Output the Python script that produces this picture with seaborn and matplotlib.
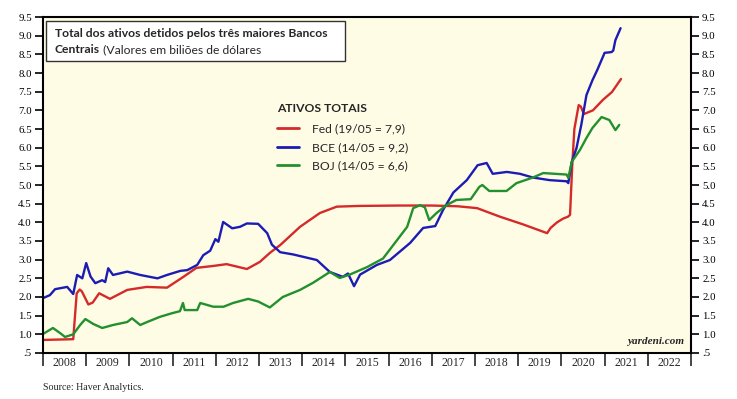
import matplotlib
matplotlib.use("Agg")
import matplotlib.pyplot as plt
import matplotlib.ticker as mticker
from matplotlib.patches import Rectangle
import seaborn as sns
import pandas as pd

# ---- data (decimal year, trillions USD) ----
fed_x = [2008.0, 2008.7, 2008.78, 2008.85, 2008.9, 2009.05, 2009.15, 2009.3, 2009.55, 2009.95,
         2010.4, 2010.87, 2011.25, 2011.55, 2011.93, 2012.25, 2012.72, 2013.02, 2013.25, 2013.49,
         2013.95, 2014.41, 2014.8, 2015.34, 2016.26, 2017.0, 2017.6, 2018.05, 2018.58, 2019.1,
         2019.67, 2019.75, 2019.9, 2020.04, 2020.15, 2020.2, 2020.25, 2020.3, 2020.4, 2020.45,
         2020.52, 2020.73, 2020.96, 2021.17, 2021.38]
fed_y = [0.85, 0.87, 2.1, 2.2, 2.15, 1.8, 1.85, 2.1, 1.95, 2.19,
         2.27, 2.25, 2.54, 2.78, 2.83, 2.88, 2.75, 2.94, 3.18, 3.39,
         3.88, 4.25, 4.42, 4.44, 4.45, 4.45, 4.43, 4.38, 4.15, 3.95,
         3.71, 3.85, 4.0, 4.1, 4.15, 4.2, 5.5, 6.5, 7.14, 7.1,
         6.9, 7.0, 7.28, 7.49, 7.84]

bce_x = [2008.0, 2008.16, 2008.28, 2008.56, 2008.7, 2008.79, 2008.91, 2009.0, 2009.1, 2009.21,
         2009.37, 2009.44, 2009.51, 2009.62, 2009.95, 2010.25, 2010.65, 2010.87, 2011.18, 2011.34,
         2011.57, 2011.71, 2011.87, 2011.99, 2012.06, 2012.17, 2012.38, 2012.56, 2012.72, 2012.98,
         2013.19, 2013.3, 2013.49, 2013.79, 2014.34, 2014.64, 2014.94, 2015.06, 2015.2, 2015.34,
         2015.73, 2016.03, 2016.5, 2016.8, 2017.08, 2017.26, 2017.5, 2017.81, 2018.06, 2018.27,
         2018.41, 2018.74, 2019.04, 2019.34, 2019.73, 2020.12, 2020.16, 2020.24, 2020.35, 2020.46,
         2020.58, 2020.72, 2020.83, 2021.0, 2021.16, 2021.2, 2021.25, 2021.37]
bce_y = [1.97, 2.05, 2.21, 2.27, 2.08, 2.59, 2.5, 2.91, 2.55, 2.37,
         2.45, 2.4, 2.77, 2.59, 2.68, 2.59, 2.5, 2.59, 2.7, 2.72,
         2.86, 3.12, 3.24, 3.55, 3.48, 4.01, 3.84, 3.88, 3.97, 3.96,
         3.71, 3.4, 3.2, 3.14, 2.99, 2.67, 2.54, 2.63, 2.29, 2.6,
         2.86, 2.99, 3.45, 3.85, 3.9, 4.33, 4.8, 5.13, 5.53, 5.59,
         5.3, 5.35, 5.3, 5.2, 5.13, 5.1, 5.05, 5.62, 5.99, 6.61,
         7.41, 7.81, 8.08, 8.54, 8.56, 8.6, 8.88, 9.2]

boj_x = [2008.0, 2008.23, 2008.4, 2008.51, 2008.7, 2008.86, 2008.98, 2009.16, 2009.37, 2009.62,
         2009.95, 2010.06, 2010.25, 2010.41, 2010.71, 2011.0, 2011.17, 2011.24, 2011.28, 2011.57,
         2011.64, 2011.94, 2012.18, 2012.4, 2012.75, 2012.98, 2013.25, 2013.55, 2013.95, 2014.25,
         2014.64, 2014.87, 2015.1, 2015.5, 2015.87, 2016.2, 2016.43, 2016.57, 2016.73, 2016.84,
         2016.94, 2017.11, 2017.34, 2017.57, 2017.9, 2018.1, 2018.17, 2018.33, 2018.73, 2018.96,
         2019.34, 2019.58, 2020.12, 2020.16, 2020.24, 2020.43, 2020.58, 2020.72, 2020.93, 2021.11,
         2021.25, 2021.34]
boj_y = [1.01, 1.17, 1.03, 0.93, 1.0, 1.25, 1.41, 1.28, 1.17, 1.25,
         1.33, 1.43, 1.25, 1.33, 1.47, 1.57, 1.62, 1.84, 1.65, 1.65,
         1.84, 1.74, 1.74, 1.84, 1.95, 1.88, 1.72, 2.0, 2.19, 2.38,
         2.67, 2.51, 2.6, 2.8, 3.03, 3.53, 3.88, 4.38, 4.46, 4.4,
         4.06, 4.25, 4.46, 4.6, 4.62, 4.95, 5.0, 4.84, 4.84, 5.05,
         5.2, 5.32, 5.28, 5.19, 5.62, 5.94, 6.26, 6.53, 6.82, 6.74,
         6.47, 6.61]

series_labels = ["Fed (19/05 = 7,9)", "BCE (14/05 = 9,2)", "BOJ (14/05 = 6,6)"]
series_colors = ["#d42a2a", "#1c1cb4", "#22902e"]
year_labels = [str(y) for y in range(2008, 2023)]
y_ticks = [0.5 + 0.5 * i for i in range(19)]

title_bold_1 = "Total dos ativos detidos pelos três maiores Bancos"
title_bold_2 = "Centrais"
title_norm_2 = " (Valores em biliões de dólares"
legend_title = "ATIVOS TOTAIS"

df = pd.concat([
    pd.DataFrame({"ano": fed_x, "valor": fed_y, "serie": series_labels[0]}),
    pd.DataFrame({"ano": bce_x, "valor": bce_y, "serie": series_labels[1]}),
    pd.DataFrame({"ano": boj_x, "valor": boj_y, "serie": series_labels[2]}),
], ignore_index=True)

sns.set_style("white")
plt.rcParams["font.family"] = ["Liberation Serif", "DejaVu Serif"]
SANS = ["Lato", "DejaVu Sans"]

fig = plt.figure(figsize=(7.37, 3.99), dpi=100)
ax = fig.add_axes([43 / 737, 1 - 353 / 399, 648 / 737, 336 / 399])
ax.set_facecolor("#fffce6")

sns.lineplot(data=df, x="ano", y="valor", hue="serie", palette=series_colors,
             hue_order=series_labels, estimator=None, sort=False, lw=1.7, ax=ax)

ax.set_xlim(2008, 2023)
ax.set_ylim(0.5, 9.5)
ax.set_xlabel("")
ax.set_ylabel("")

# y axis both sides
ax.set_yticks(y_ticks)
fmt = mticker.FuncFormatter(lambda v, p: ".5" if abs(v - 0.5) < 1e-6 else f"{v:.1f}")
ax.yaxis.set_major_formatter(fmt)
ax.tick_params(axis="y", which="major", direction="out", length=6, width=1.2,
               labelsize=7.8, left=True, right=True, labelleft=True, labelright=True,
               pad=2, colors="black")

# x axis: ticks at year boundaries, labels mid-year
ax.set_xticks(range(2008, 2024))
ax.xaxis.set_major_formatter(mticker.NullFormatter())
ax.set_xticks([y + 0.5 for y in range(2008, 2023)], minor=True)
ax.set_xticklabels(year_labels, minor=True)
ax.tick_params(axis="x", which="major", direction="out", length=9, width=1.2, bottom=True)
ax.tick_params(axis="x", which="minor", length=0, labelsize=8.5, pad=3)

for s in ax.spines.values():
    s.set_color("black")
    s.set_linewidth(1.5)

# title box
FS = 8.7
ax.add_patch(Rectangle((0.005, 0.869), 0.461, 0.119, transform=ax.transAxes,
                       facecolor="white", edgecolor="#333333", lw=1.0, zorder=5))
t1 = ax.text(0.0185, 0.952, title_bold_1, transform=ax.transAxes, fontsize=FS,
             fontweight="bold", family=SANS, va="center", zorder=6)
t2 = ax.text(0.0185, 0.903, title_bold_2, transform=ax.transAxes, fontsize=FS,
             fontweight="bold", family=SANS, va="center", zorder=6)
ax.annotate(title_norm_2, xy=(1, 0), xycoords=t2, va="bottom", ha="left", fontsize=FS,
            family=SANS, zorder=6)

# legend
leg = ax.legend(loc="upper left", bbox_to_anchor=(0.345, 0.777), frameon=False,
                title=legend_title, alignment="left",
                handlelength=1.8, handletextpad=1.1, labelspacing=0.62,
                prop={"family": SANS, "size": FS})
leg.get_title().set_fontweight("bold")
leg.get_title().set_family(SANS)
leg.get_title().set_fontsize(FS)
leg._legend_box.sep = 7
for line in leg.get_lines():
    line.set_linewidth(2.0)

ax.text(0.99, 0.022, "yardeni.com", transform=ax.transAxes, ha="right", va="bottom",
        fontsize=8, fontweight="bold", fontstyle="italic")
fig.text(43 / 737, 1 - 387 / 399, "Source: Haver Analytics.", fontsize=7.2, va="center")

fig.savefig("out.png", dpi=100, facecolor="white")
